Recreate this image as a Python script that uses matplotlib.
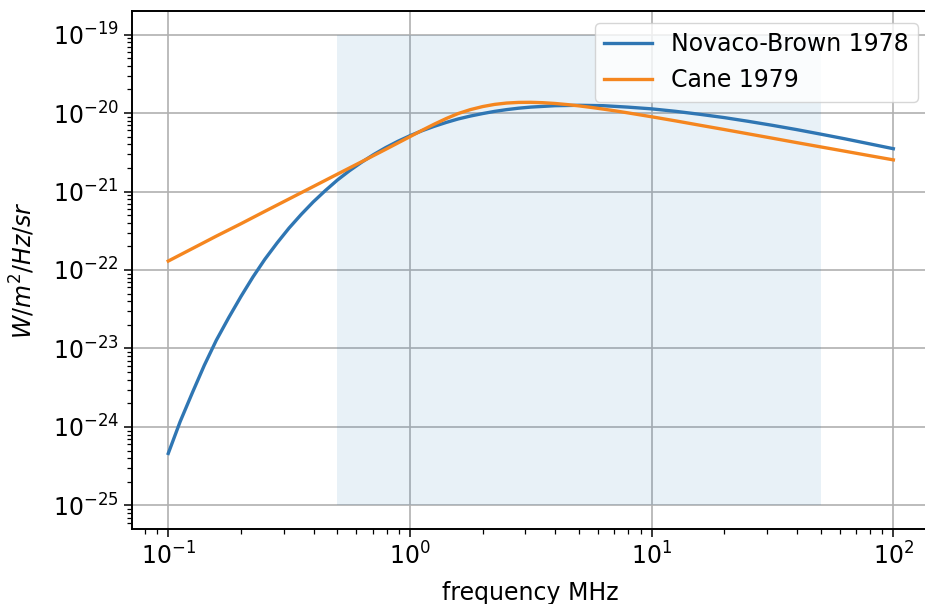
import matplotlib.pyplot as plt

# Novaco-Brown 1978: frequency (MHz) and sky brightness (W/m^2/Hz/sr)
freq_nb = [0.1, 0.112, 0.126, 0.141, 0.158, 0.178, 0.2, 0.224, 0.251, 0.282,
           0.316, 0.355, 0.398, 0.447, 0.501, 0.562, 0.631, 0.708, 0.794, 0.891,
           1.0, 1.122, 1.26, 1.413, 1.58, 1.778, 2.0, 2.239, 2.51, 2.818,
           3.16, 3.98, 5.01, 6.31, 7.94, 10.0, 12.6, 15.8, 20.0, 25.1,
           31.6, 39.8, 50.1, 63.1, 79.4, 100.0]
novaco_brown = [4.60e-25, 1.17e-24, 2.76e-24, 6.11e-24, 1.27e-23, 2.48e-23,
                4.61e-23, 8.13e-23, 1.37e-22, 2.21e-22, 3.42e-22, 5.11e-22,
                7.37e-22, 1.03e-21, 1.40e-21, 1.84e-21, 2.36e-21, 2.96e-21,
                3.63e-21, 4.36e-21, 5.14e-21, 5.95e-21, 6.77e-21, 7.59e-21,
                8.39e-21, 9.15e-21, 9.85e-21, 1.049e-20, 1.105e-20, 1.153e-20,
                1.19e-20, 1.24e-20, 1.255e-20, 1.24e-20, 1.19e-20, 1.13e-20,
                1.05e-20, 9.64e-21, 8.74e-21, 7.84e-21, 6.97e-21, 6.15e-21,
                5.38e-21, 4.69e-21, 4.06e-21, 3.51e-21]

# Cane 1979
freq_cane = [0.1, 0.126, 0.158, 0.2, 0.251, 0.316, 0.398, 0.501, 0.631, 0.794,
             1.0, 1.122, 1.26, 1.413, 1.58, 1.778, 2.0, 2.239, 2.51, 2.818,
             3.16, 3.548, 3.98, 4.467, 5.01, 5.623, 6.31, 7.079, 7.94, 8.913,
             10.0, 12.6, 15.8, 20.0, 25.1, 31.6, 39.8, 50.1, 63.1, 79.4, 100.0]
cane = [1.30e-22, 1.88e-22, 2.70e-22, 3.89e-22, 5.59e-22, 8.04e-22,
        1.157e-21, 1.665e-21, 2.395e-21, 3.45e-21,
        5.00e-21, 6.02e-21, 7.21e-21, 8.51e-21, 9.83e-21, 1.105e-20,
        1.209e-20, 1.288e-20, 1.34e-20, 1.366e-20, 1.37e-20, 1.354e-20,
        1.324e-20, 1.282e-20, 1.233e-20, 1.179e-20, 1.122e-20, 1.065e-20,
        1.007e-20, 9.50e-21, 8.96e-21,
        7.93e-21, 7.00e-21, 6.16e-21, 5.43e-21, 4.78e-21, 4.20e-21,
        3.70e-21, 3.26e-21, 2.87e-21, 2.53e-21]

# shaded band
band_f = [0.5, 50]
band_y = [1e-25, 1e-19]
yticks = [1e-25, 1e-24, 1e-23, 1e-22, 1e-21, 1e-20, 1e-19]

plt.rcParams['font.size'] = 17

fig = plt.figure(figsize=(9.25, 6.04), dpi=100)
ax = fig.add_axes([132/925, 75/604, 797.6/925, 518/604])

ax.fill_between(band_f, band_y[0], band_y[1], color='C0', alpha=0.1, lw=0)
ax.plot(freq_nb, novaco_brown, color='#2f76b3', lw=2.4, label='Novaco-Brown 1978')
ax.plot(freq_cane, cane, color='#f5861f', lw=2.4, label='Cane 1979')

ax.set_xscale('log')
ax.set_yscale('log')
ax.set_yticks(yticks)
ax.grid(True, which='major', color='#b0b0b0', lw=1.2)
ax.set_axisbelow(True)

ax.tick_params(which='major', length=6, width=1.1, labelsize=17)
ax.tick_params(which='minor', length=3.5, width=0.9)
for s in ax.spines.values():
    s.set_linewidth(1.4)
ax.spines['right'].set_visible(False)

ax.set_xlabel('frequency MHz', fontsize=17, labelpad=8)
ax.set_ylabel('$W/m^2/Hz/sr$', fontsize=17, labelpad=11)
ax.legend(loc='upper right', fontsize=17)

fig.savefig('out.png', dpi=100)
